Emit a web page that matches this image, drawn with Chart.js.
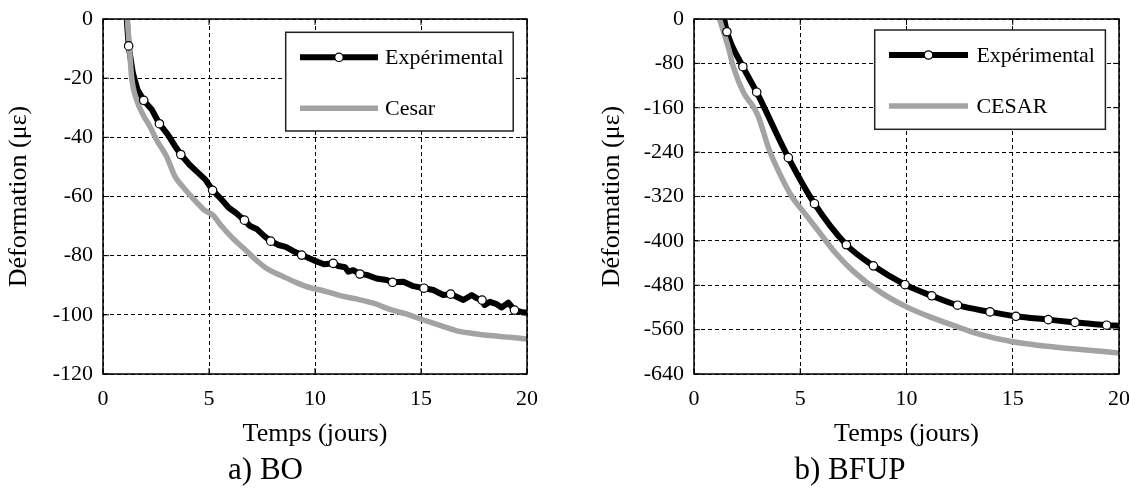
<!DOCTYPE html>
<html>
<head>
<meta charset="utf-8">
<script src="https://cdn.jsdelivr.net/npm/chart.js@4/dist/chart.umd.min.js"></script>
<style>
  html, body { margin: 0; padding: 0; background: #fff; }
  #wrap { position: relative; width: 1129px; height: 489px; overflow: hidden; }
  #cBO { position: absolute; left: 0; top: 0; }
  #cBFUP { position: absolute; left: 560px; top: 0; }
</style>
</head>
<body>
<div id="wrap">
  <canvas id="cBO" width="560" height="489"></canvas>
  <canvas id="cBFUP" width="569" height="489"></canvas>
</div>
<script>
// ---------- data ----------
const xTickValues = [0, 5, 10, 15, 20];
const boTickValues = [0, -20, -40, -60, -80, -100, -120];
const bfupTickValues = [0, -80, -160, -240, -320, -400, -480, -560, -640];

// a) BO - experimental (dense trace)
const boExpDays = [1.12, 1.21, 1.41, 1.63, 1.92, 2.31, 2.66, 3.06, 3.40, 3.67, 4.07, 4.49, 4.83, 5.17, 5.59,
  5.93, 6.26, 6.67, 6.94, 7.27, 7.61, 7.91, 8.28, 8.62, 8.96, 9.37, 9.92, 10.42, 10.86, 11.10, 11.42, 11.57,
  11.80, 12.12, 12.44, 12.90, 13.38, 13.66, 14.17, 14.64, 15.14, 15.58, 16.05, 16.40, 16.68, 17.00, 17.39,
  17.63, 17.88, 18.00, 18.25, 18.57, 18.80, 19.12, 19.41, 19.73, 20.00];
const boExpStrain = [0, -9.1, -18.3, -23.9, -27.5, -30.7, -35.4, -39.1, -43.0, -45.8, -49.2, -52.0, -54.3, -57.9, -61.0,
  -63.8, -65.5, -68.0, -70.0, -71.1, -73.4, -75.1, -76.4, -77.0, -78.4, -79.8, -81.5, -82.9, -82.6, -83.5, -83.9, -85.4,
  -84.9, -86.2, -86.5, -87.7, -88.2, -89.0, -88.8, -90.3, -91.0, -91.6, -93.3, -93.0, -93.9, -95.0, -93.3,
  -94.4, -95.0, -96.7, -95.6, -96.4, -97.5, -95.9, -98.4, -99.0, -99.3];
// a) BO - experimental (marked points)
const boMarkDays = [1.21, 1.92, 2.66, 3.67, 5.17, 6.67, 7.91, 9.37, 10.86, 12.12, 13.66, 15.14, 16.40, 17.88, 19.41];
const boMarkStrain = [-9.1, -27.5, -35.4, -45.8, -57.9, -68.0, -75.1, -79.8, -82.6, -86.2, -89.0, -91.0, -93.0, -95.0, -98.4];
// a) BO - Cesar
const boCesarDays = [1.15, 1.25, 1.35, 1.59, 1.90, 2.22, 2.53, 3.00, 3.40, 3.80, 4.18, 4.75, 5.20, 5.59, 6.09, 6.77,
  7.27, 7.78, 8.45, 9.12, 9.80, 10.30, 11.14, 11.99, 12.83, 13.50, 14.34, 15.02, 15.86, 16.70, 17.37, 18.38, 19.23, 20.00];
const boCesarStrain = [0, -10.0, -19.7, -27.4, -32.5, -36.4, -40.9, -46.5, -53.3, -57.0, -60.1, -64.4, -66.4, -70.0, -73.9, -78.4,
  -81.8, -84.6, -86.9, -89.1, -90.9, -91.7, -93.4, -94.7, -96.2, -98.1, -99.8, -101.5, -103.5, -105.4, -106.2, -107.1, -107.6, -108.2];

// b) BFUP - experimental
const bfupExpDays = [1.42, 1.55, 2.30, 2.95, 4.44, 5.67, 7.17, 8.44, 9.93, 11.19, 12.40, 13.93, 15.15, 16.67, 17.93, 19.42, 20.00];
const bfupExpStrain = [0, -23, -86, -132, -250, -333, -407, -445, -479, -499, -516, -528, -536, -542, -547, -552, -553];
const bfupMarkDays = [1.55, 2.30, 2.95, 4.44, 5.67, 7.17, 8.44, 9.93, 11.19, 12.40, 13.93, 15.15, 16.67, 17.93, 19.42];
const bfupMarkStrain = [-23, -86, -132, -250, -333, -407, -445, -479, -499, -516, -528, -536, -542, -547, -552];
// b) BFUP - CESAR
const bfupCesarDays = [1.20, 1.65, 1.85, 2.35, 2.79, 3.03, 3.54, 4.00, 4.60, 5.10, 5.79, 6.64, 7.50, 8.75, 10.00,
  11.10, 12.40, 13.50, 15.00, 16.60, 18.20, 20.00];
const bfupCesarStrain = [0, -56, -86, -134, -158, -176, -236, -276, -320, -345, -379, -421, -455, -492, -519,
  -537, -555, -569, -582, -590, -596, -602];

// ---------- helpers ----------
const serif = "'Liberation Serif', 'Times New Roman', serif";
const zip = (xs, ys) => xs.map((x, i) => ({ x: x, y: ys[i] }));

const frameLegendPlugin = {
  id: 'frameLegend',
  afterDatasetsDraw(chart, args, opts) {
    const ctx = chart.ctx;
    const a = chart.chartArea;
    const xs = chart.scales.x, ys = chart.scales.y;
    ctx.save();
    ctx.strokeStyle = '#000';
    ctx.lineWidth = 1.5;
    ctx.setLineDash([]);
    ctx.strokeRect(a.left, a.top, a.right - a.left, a.bottom - a.top);
    const tl = opts.tickLen;
    ctx.lineWidth = 1;
    ctx.beginPath();
    xs.ticks.forEach(t => {
      const p = xs.getPixelForValue(t.value);
      ctx.moveTo(p, a.bottom); ctx.lineTo(p, a.bottom - tl);
      ctx.moveTo(p, a.top); ctx.lineTo(p, a.top + tl);
    });
    ys.ticks.forEach(t => {
      const p = ys.getPixelForValue(t.value);
      ctx.moveTo(a.left, p); ctx.lineTo(a.left + tl, p);
      ctx.moveTo(a.right, p); ctx.lineTo(a.right - tl, p);
    });
    ctx.stroke();
    ctx.restore();
  },
  afterDraw(chart, args, opts) {
    const ctx = chart.ctx;
    const a = chart.chartArea;
    const b = opts.box;
    const bx = a.right - b.right - b.width;
    const by = a.top + b.top;
    ctx.save();
    ctx.fillStyle = '#fff';
    ctx.fillRect(bx, by, b.width, b.height);
    ctx.strokeStyle = '#222';
    ctx.lineWidth = 1.5;
    ctx.strokeRect(bx, by, b.width, b.height);
    ctx.font = '22px ' + serif;
    ctx.textBaseline = 'middle';
    ctx.textAlign = 'left';
    opts.entries.forEach((e, i) => {
      const ds = chart.data.datasets[e.dataset];
      const y = by + opts.rows[i];
      ctx.strokeStyle = ds.borderColor;
      ctx.lineWidth = ds.borderWidth;
      ctx.lineCap = 'butt';
      ctx.beginPath();
      ctx.moveTo(bx + opts.sampleFrom, y);
      ctx.lineTo(bx + opts.sampleTo, y);
      ctx.stroke();
      if (e.marker !== undefined) {
        const m = chart.data.datasets[e.marker];
        ctx.beginPath();
        ctx.arc(bx + (opts.sampleFrom + opts.sampleTo) / 2, y, m.pointRadius, 0, Math.PI * 2);
        ctx.fillStyle = m.pointBackgroundColor;
        ctx.fill();
        ctx.lineWidth = m.pointBorderWidth;
        ctx.strokeStyle = m.pointBorderColor;
        ctx.stroke();
      }
      ctx.fillStyle = '#000';
      ctx.fillText(ds.label, bx + opts.textX, y + 1);
    });
    ctx.restore();
  }
};

function build(canvasId, spec) {
  const tickFont = { family: serif, size: 22 };
  return new Chart(document.getElementById(canvasId), {
    type: 'scatter',
    data: {
      datasets: [
        { label: spec.expLabel, data: zip(spec.markDays, spec.markStrain), showLine: false,
          pointRadius: 4.2, pointBackgroundColor: '#fff', pointBorderColor: '#000', pointBorderWidth: 1.2 },
        { label: spec.simLabel, data: zip(spec.simDays, spec.simStrain), showLine: true,
          borderColor: '#a3a3a3', borderWidth: 5.5, pointRadius: 0, cubicInterpolationMode: 'monotone' },
        { label: spec.expLabel, data: zip(spec.expDays, spec.expStrain), showLine: true,
          borderColor: '#000', borderWidth: 6, pointRadius: 0, borderJoinStyle: 'round',
          cubicInterpolationMode: spec.smoothExp ? 'monotone' : 'default' }
      ]
    },
    options: {
      responsive: false,
      animation: false,
      layout: { padding: { left: spec.padLeft, right: spec.padRight, top: 19, bottom: 0 } },
      plugins: {
        legend: { display: false },
        tooltip: { enabled: false },
        title: { display: true, text: spec.caption, position: 'bottom', color: '#000',
          font: { family: serif, size: 31, weight: 'normal' }, padding: { top: 0, bottom: 0 } },
        frameLegend: {
          tickLen: 6,
          box: spec.legendBox,
          sampleFrom: 14.3, sampleTo: spec.sampleTo, textX: spec.textX, rows: [25, 76],
          entries: [{ dataset: 2, marker: 0 }, { dataset: 1 }]
        }
      },
      scales: {
        x: {
          type: 'linear', min: 0, max: 20,
          afterBuildTicks: s => { s.ticks = [...xTickValues].sort((p, q) => p - q).map(v => ({ value: v })); },
          afterFit: s => { s.height = 77.8; s.paddingLeft = 0; s.paddingRight = 0; },
          grid: { color: '#000', lineWidth: 1, drawTicks: false },
          border: { display: false, dash: [4, 3] },
          ticks: { autoSkip: false, maxRotation: 0, padding: 12, color: '#000', font: tickFont },
          title: { display: true, text: 'Temps (jours)', color: '#000',
            font: { family: serif, size: 26 }, padding: { top: 0, bottom: 2.2 } }
        },
        y: {
          type: 'linear', min: spec.yMin, max: 0,
          afterBuildTicks: s => { s.ticks = [...spec.yTicks].sort((p, q) => p - q).map(v => ({ value: v })); },
          afterFit: s => { s.width = spec.yWidth; s.paddingTop = 0; s.paddingBottom = 0; },
          grid: { color: '#000', lineWidth: 1, drawTicks: false },
          border: { display: false, dash: [4, 3] },
          ticks: { autoSkip: false, padding: 10, color: '#000', font: tickFont },
          title: { display: true, text: 'Déformation (με)', color: '#000',
            font: { family: serif, size: 26 }, padding: { top: spec.yTitlePad, bottom: 0 } }
        }
      }
    },
    plugins: [frameLegendPlugin]
  });
}

build('cBO', {
  caption: 'a) BO', expLabel: 'Expérimental', simLabel: 'Cesar',
  expDays: boExpDays, expStrain: boExpStrain, markDays: boMarkDays, markStrain: boMarkStrain,
  simDays: boCesarDays, simStrain: boCesarStrain, smoothExp: false,
  yMin: -120, yTicks: boTickValues,
  padLeft: 4, padRight: 33, yWidth: 99, yTitlePad: 0,
  legendBox: { right: 13.8, top: 13.3, width: 227.5, height: 98.7 }, sampleTo: 92.3, textX: 99.3
});

build('cBFUP', {
  caption: 'b) BFUP', expLabel: 'Expérimental', simLabel: 'CESAR',
  expDays: bfupExpDays, expStrain: bfupExpStrain, markDays: bfupMarkDays, markStrain: bfupMarkStrain,
  simDays: bfupCesarDays, simStrain: bfupCesarStrain, smoothExp: true,
  yMin: -640, yTicks: bfupTickValues,
  padLeft: 21, padRight: 10, yWidth: 113, yTitlePad: 15.4,
  legendBox: { right: 13.6, top: 11, width: 230.7, height: 99.3 }, sampleTo: 93.3, textX: 101.7
});
</script>
</body>
</html>
